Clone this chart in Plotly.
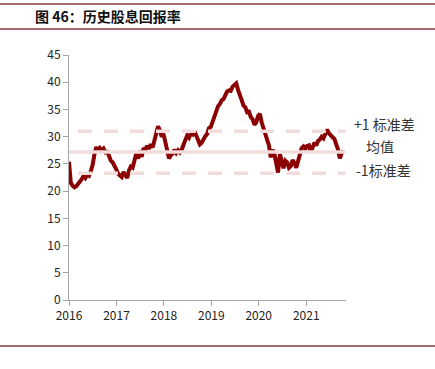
import plotly.graph_objects as go
import pandas as pd

# ---- data ----
start_date = "2016-01-01"
step = "14D"
dividend_yield = [
    25.4, 21.5, 21.0, 20.7, 20.9, 21.3, 21.7, 22.2, 22.8, 22.4,
    23.0, 22.8, 23.7, 24.8, 26.8, 28.1, 27.4, 27.9, 27.5, 27.8,
    27.1, 27.2, 26.5, 25.6, 25.3, 24.4, 24.0, 23.2, 23.0, 22.6,
    23.5, 22.8, 22.4, 23.8, 24.5, 24.3, 25.6, 26.9, 26.0, 27.4,
    26.3, 27.9, 27.6, 28.3, 27.8, 28.6, 28.0, 29.6, 30.8, 31.9,
    31.2, 30.0, 30.5, 29.0, 27.5, 26.0, 26.6, 26.9, 27.6, 27.0,
    27.5, 27.1, 27.6, 28.8, 29.4, 30.2, 29.8, 30.6, 30.4, 31.0,
    30.2, 29.3, 28.6, 28.9, 29.6, 30.1, 30.5, 31.6, 31.8, 32.8,
    34.0, 34.8, 35.6, 36.0, 36.7, 36.9, 37.8, 38.3, 38.5, 38.4,
    39.2, 39.4, 39.8, 38.6, 37.4, 36.7, 35.7, 35.4, 34.5, 34.6,
    33.6, 33.2, 32.2, 32.6, 33.8, 34.2, 32.6, 31.4, 30.4, 29.6,
    28.4, 26.2, 27.6, 26.8, 25.2, 23.4, 26.8, 25.0, 24.2, 25.6,
    25.3, 24.3, 24.6, 25.7, 25.2, 24.3, 25.6, 27.3, 27.9, 28.2,
    27.8, 28.3, 28.4, 27.1, 28.3, 28.9, 28.4, 29.2, 29.5, 30.0,
    29.7, 30.4, 31.3, 30.6, 30.1, 29.9, 29.6, 28.6, 27.6, 26.0,
    27.0, 27.4,
]
mean_val = 27.2
std_up = 31.0
std_dn = 23.3
year_ticks = ["2016-01-01", "2017-01-01", "2018-01-01", "2019-01-01", "2020-01-01", "2021-01-01"]
year_labels = ["2016", "2017", "2018", "2019", "2020", "2021"]
y_ticks = [0, 5, 10, 15, 20, 25, 30, 35, 40, 45]
x_end = "2021-11-01"
dash_start = "2016-03-10"
labels = ["+1 标准差", "均值", "-1标准差"]

dates = pd.date_range(start_date, periods=len(dividend_yield), freq=step)

FONT = "Noto Sans CJK SC"
fig = go.Figure()
fig.add_trace(go.Scatter(x=dates, y=dividend_yield, mode="lines",
                         line=dict(color="#8b0000", width=4), hoverinfo="skip"))
fig.add_trace(go.Scatter(x=[start_date, x_end], y=[mean_val, mean_val], mode="lines",
                         line=dict(color="#f2dcdb", width=3.5), hoverinfo="skip"))
for v in (std_up, std_dn):
    fig.add_trace(go.Scatter(x=[dash_start, x_end], y=[v, v], mode="lines",
                             line=dict(color="#f2dcdb", width=3.5, dash="14px,12px"),
                             hoverinfo="skip"))

axis_common = dict(showgrid=False, zeroline=False, showline=True, linecolor="#a6a6a6",
                   linewidth=1, ticks="outside", tickcolor="#a6a6a6", ticklen=5,
                   automargin=False,
                   tickfont=dict(family=FONT, size=12, color="#222"))
fig.update_layout(
    width=435, height=369, margin=dict(l=0, r=0, t=0, b=0, pad=0, autoexpand=False),
    paper_bgcolor="white", plot_bgcolor="white", showlegend=False,
    xaxis=dict(domain=[69/435, 345.7/435], range=[start_date, x_end], type="date",
               tickvals=year_ticks, ticktext=year_labels, **axis_common),
    yaxis=dict(domain=[1-300/369, 1-55/369], range=[0, 45], tickvals=y_ticks, **axis_common),
)

# annotations for reference lines
ann_y = [124, 146, 170]
ann_x = [384, 380, 383]
for t, yy, xx in zip(labels, ann_y, ann_x):
    fig.add_annotation(xref="paper", yref="paper", x=xx/435, y=1-yy/369, text=t,
                       showarrow=False, xanchor="center", yanchor="middle",
                       font=dict(family=FONT, size=14, color="#333"))

# header
fig.add_annotation(xref="paper", yref="paper", x=33/435, y=1-16/369, text="<b>图 46：历史股息回报率</b>",
                   showarrow=False, xanchor="left", yanchor="middle",
                   font=dict(family=FONT, size=14, color="#111"))
for yy in (4, 29, 346):
    fig.add_shape(type="line", xref="paper", yref="paper", x0=0, x1=1, y0=1-yy/369, y1=1-yy/369,
                  line=dict(color="#8b3a3a", width=1.5))

fig.write_html("out.html", config={"displayModeBar": False, "staticPlot": True},
               post_script="document.body.style.margin='0';document.body.style.overflow='hidden';")
